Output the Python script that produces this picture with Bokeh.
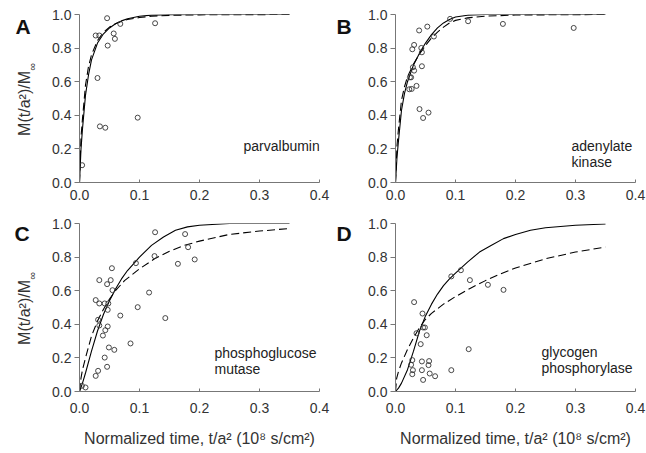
import math
from bokeh.plotting import figure
from bokeh.layouts import column, row
from bokeh.models import Label, FixedTicker, PrintfTickFormatter, Range1d
from bokeh.core.properties import value
from bokeh.embed import file_html
from bokeh.resources import INLINE

# ---------------- data ----------------
x_ticks = [0.0, 0.1, 0.2, 0.3, 0.4]
y_ticks = [0.0, 0.2, 0.4, 0.6, 0.8, 1.0]

# Panel A: parvalbumin
a_pts_t = [0.0044, 0.027, 0.033, 0.046, 0.030, 0.034, 0.043, 0.047, 0.057, 0.059, 0.068, 0.097, 0.126]
a_pts_m = [0.103, 0.875, 0.875, 0.978, 0.622, 0.334, 0.326, 0.815, 0.887, 0.855, 0.944, 0.386, 0.948]
a_solid_t = [0, 0.0025, 0.005, 0.01, 0.015, 0.02, 0.03, 0.04, 0.05, 0.06, 0.07, 0.08, 0.1, 0.12, 0.15, 0.2, 0.35]
a_solid_m = [0, 0.20, 0.32, 0.52, 0.64, 0.73, 0.83, 0.885, 0.92, 0.945, 0.962, 0.975, 0.99, 0.996, 0.999, 1.0, 1.0]
a_dash_t = [0, 0.0025, 0.005, 0.01, 0.015, 0.02, 0.03, 0.04, 0.05, 0.06, 0.07, 0.08, 0.1, 0.12, 0.15, 0.2, 0.35]
a_dash_m = [0, 0.27, 0.38, 0.58, 0.69, 0.76, 0.845, 0.895, 0.925, 0.945, 0.96, 0.97, 0.982, 0.99, 0.995, 0.998, 1.0]

# Panel B: adenylate kinase
b_pts_t = [0.0394, 0.053, 0.031, 0.028, 0.043, 0.044, 0.064, 0.091, 0.121, 0.179, 0.297,
           0.029, 0.031, 0.044, 0.024, 0.026, 0.023, 0.027, 0.035, 0.040, 0.055, 0.046]
b_pts_m = [0.905, 0.928, 0.819, 0.793, 0.801, 0.775, 0.869, 0.974, 0.960, 0.944, 0.920,
           0.686, 0.666, 0.692, 0.626, 0.626, 0.555, 0.557, 0.575, 0.437, 0.416, 0.384]
b_solid_t = [0, 0.0025, 0.005, 0.01, 0.015, 0.02, 0.03, 0.04, 0.05, 0.06, 0.07, 0.08, 0.09, 0.1, 0.12, 0.15, 0.35]
b_solid_m = [0, 0.15, 0.25, 0.43, 0.53, 0.60, 0.70, 0.77, 0.83, 0.88, 0.92, 0.95, 0.97, 0.985, 0.996, 1.0, 1.0]
b_dash_t = [0, 0.0025, 0.005, 0.01, 0.015, 0.02, 0.03, 0.04, 0.05, 0.06, 0.07, 0.08, 0.09, 0.1, 0.12, 0.15, 0.2, 0.35]
b_dash_m = [0, 0.22, 0.32, 0.49, 0.57, 0.63, 0.705, 0.765, 0.815, 0.86, 0.895, 0.925, 0.95, 0.965, 0.98, 0.99, 0.997, 1.0]

# Panel C: phosphoglucose mutase
c_pts_t = [0.004, 0.010, 0.027, 0.031, 0.042, 0.046, 0.049, 0.058, 0.039, 0.043, 0.047, 0.033,
           0.031, 0.027, 0.033, 0.042, 0.048, 0.047, 0.033, 0.046, 0.052, 0.054, 0.055, 0.068,
           0.085, 0.094, 0.097, 0.116, 0.126, 0.125, 0.143, 0.164, 0.176, 0.181, 0.192]
c_pts_m = [0.034, 0.024, 0.093, 0.123, 0.202, 0.147, 0.262, 0.248, 0.333, 0.365, 0.387, 0.393,
           0.427, 0.544, 0.524, 0.524, 0.524, 0.486, 0.663, 0.639, 0.663, 0.734, 0.603, 0.452,
           0.286, 0.764, 0.502, 0.589, 0.948, 0.806, 0.437, 0.760, 0.937, 0.859, 0.786]
c_solid_t = [0, 0.005, 0.01, 0.02, 0.03, 0.04, 0.05, 0.06, 0.07, 0.08, 0.09, 0.1, 0.12, 0.14, 0.16, 0.18, 0.2, 0.25, 0.35]
c_solid_m = [0, 0.05, 0.11, 0.24, 0.36, 0.46, 0.54, 0.61, 0.67, 0.72, 0.76, 0.80, 0.87, 0.92, 0.96, 0.98, 0.99, 1.0, 1.0]
c_dash_t = [0, 0.0025, 0.005, 0.01, 0.02, 0.03, 0.04, 0.05, 0.06, 0.075, 0.1, 0.125, 0.15, 0.175, 0.2, 0.25, 0.3, 0.35]
c_dash_m = [0, 0.08, 0.13, 0.20, 0.33, 0.42, 0.49, 0.55, 0.60, 0.66, 0.73, 0.79, 0.835, 0.87, 0.895, 0.935, 0.955, 0.97]

# Panel D: glycogen phosphorylase
d_pts_t = [0.031, 0.045, 0.035, 0.049, 0.046, 0.052, 0.042, 0.028, 0.026, 0.029, 0.028, 0.044,
           0.044, 0.056, 0.055, 0.057, 0.066, 0.046, 0.093, 0.109, 0.124, 0.122, 0.093, 0.154, 0.180]
d_pts_m = [0.532, 0.464, 0.347, 0.381, 0.381, 0.335, 0.282, 0.187, 0.159, 0.127, 0.103, 0.179,
           0.127, 0.181, 0.157, 0.107, 0.091, 0.069, 0.685, 0.722, 0.663, 0.252, 0.127, 0.635, 0.605]
d_solid_t = [0, 0.005, 0.01, 0.02, 0.03, 0.04, 0.05, 0.06, 0.07, 0.08, 0.09, 0.1, 0.12, 0.14, 0.16, 0.18, 0.2, 0.225, 0.25, 0.3, 0.35]
d_solid_m = [0, 0.02, 0.05, 0.13, 0.24, 0.36, 0.45, 0.52, 0.58, 0.63, 0.67, 0.705, 0.77, 0.83, 0.87, 0.91, 0.935, 0.96, 0.975, 0.99, 0.997]
d_dash_t = [0, 0.002, 0.005, 0.01, 0.02, 0.03, 0.04, 0.05, 0.06, 0.08, 0.1, 0.125, 0.15, 0.175, 0.2, 0.25, 0.3, 0.35]
d_dash_m = [0, 0.08, 0.12, 0.17, 0.25, 0.32, 0.38, 0.43, 0.465, 0.52, 0.565, 0.615, 0.66, 0.70, 0.735, 0.79, 0.83, 0.86]

letters = ["A", "B", "C", "D"]
names = [["parvalbumin"], ["adenylate", "kinase"], ["phosphoglucose", "mutase"], ["glycogen", "phosphorylase"]]
y_title = "M(t/a\u00b2)/M"
y_title_sub = "\u221e"
x_title = "Normalized time, t/a\u00b2 (10\u2078 s/cm\u00b2)"

# ---------------- styling / layout ----------------
FONT = "Liberation Sans"
TXT = "#333333"
AXC = "#777777"
FW, FH = 240, 168          # frame size in px
XPX = FW / 0.4             # px per x unit
YPX = FH / 1.0             # px per y unit
ROW1_H, ROW2_H = 205, 248
STRIP_L_W, STRIP_M_W = 44, 29
PA_W, PB_W = 287, 286


def dx(px):  # pixel offset from frame left -> data x
    return px / XPX


def dy(px):  # pixel offset above frame bottom -> data y
    return px / YPX


def panel(idx, pts_t, pts_m, s_t, s_m, d_t, d_m, width, height, bl, br, bt, bb,
          bottom_row, name_x, name_y):
    p = figure(width=width, height=height, x_range=Range1d(0, 0.4), y_range=Range1d(0, 1.0),
               output_backend="svg", toolbar_location=None, title=None,
               min_border_left=bl, min_border_right=br, min_border_top=bt, min_border_bottom=bb)
    p.outline_line_color = None
    p.grid.visible = False
    p.background_fill_color = "white"
    p.border_fill_color = "white"

    xa = p.xaxis[0]
    xa.ticker = FixedTicker(ticks=x_ticks)
    xa.formatter = PrintfTickFormatter(format="%.1f")
    xa.minor_tick_line_color = None
    xa.major_tick_in = 3
    xa.major_tick_out = 0
    xa.major_label_standoff = 11 if bottom_row else 7
    xa.axis_line_color = AXC
    xa.major_tick_line_color = AXC
    xa.major_label_text_font = FONT
    xa.major_label_text_font_size = "14px"
    xa.major_label_text_color = TXT
    if bottom_row:
        xa.axis_label = x_title
        xa.axis_label_text_font = FONT
        xa.axis_label_text_font_size = "16px"
        xa.axis_label_text_font_style = "normal"
        xa.axis_label_text_color = TXT
        xa.axis_label_standoff = 14

    ya = p.yaxis[0]
    ya.ticker = FixedTicker(ticks=y_ticks)
    ya.formatter = PrintfTickFormatter(format="%.1f")
    ya.minor_tick_line_color = None
    ya.major_tick_in = 0
    ya.major_tick_out = 5
    ya.major_label_standoff = 3
    ya.axis_line_color = AXC
    ya.major_tick_line_color = AXC
    ya.major_label_text_font = FONT
    ya.major_label_text_font_size = "14px"
    ya.major_label_text_color = TXT

    p.line(s_t, s_m, line_color="black", line_width=1.1)
    p.line(d_t, d_m, line_color="black", line_width=1.1, line_dash="8 4")
    p.scatter(pts_t, pts_m, marker="circle", size=5, fill_color=None,
              line_color="#333333", line_width=0.9)

    for k, line in enumerate(names[idx]):
        p.add_layout(Label(x=name_x, y=name_y - dy(16.5 * k), text=line, text_font=FONT,
                           text_font_size="14px", text_color="#222222",
                           text_align="left", text_baseline="middle"))
    return p


def strip(width, height, bt, bb, letter, letter_x, letter_mid, with_title, title_end):
    # a plain text strip (no axes); its frame matches the panels' frame of the row;
    # coordinates are pixels measured from the top-left corner of the row
    s = figure(width=width, height=height, x_range=Range1d(0, width),
               y_range=Range1d(height - bb, bt),
               output_backend="svg", toolbar_location=None, title=None,
               min_border_left=0, min_border_right=0, min_border_top=bt, min_border_bottom=bb,
               x_axis_type=None, y_axis_type=None)
    s.outline_line_color = None
    s.grid.visible = False
    s.background_fill_color = "white"
    s.border_fill_color = "white"
    s.text(x=[letter_x], y=[letter_mid], text=[letter], text_font=value(FONT),
           text_font_size="21px", text_font_style="bold", text_color="#111111",
           text_align="left", text_baseline="middle")
    if with_title:
        s.text(x=[24], y=[title_end + 0.5], text=[y_title], angle=math.pi / 2,
               text_font=value(FONT), text_font_size="16px", text_color=TXT,
               text_align="right", text_baseline="middle")
        s.text(x=[31], y=[title_end], text=[y_title_sub], angle=math.pi / 2,
               text_font=value(FONT), text_font_size="11px", text_color=TXT,
               text_align="left", text_baseline="middle")
    return s


# top row: frames at page y 14..182 ; bottom row: 223..391
pA = panel(0, a_pts_t, a_pts_m, a_solid_t, a_solid_m, a_dash_t, a_dash_m,
           PA_W, ROW1_H, 35, 12, 14, 23, False, dx(164), dy(37))
pB = panel(1, b_pts_t, b_pts_m, b_solid_t, b_solid_m, b_dash_t, b_dash_m,
           PB_W, ROW1_H, 35, 11, 14, 23, False, dx(176), dy(37))
pC = panel(2, c_pts_t, c_pts_m, c_solid_t, c_solid_m, c_dash_t, c_dash_m,
           PA_W, ROW2_H, 35, 12, 18, 62, True, dx(135), dy(39))
pD = panel(3, d_pts_t, d_pts_m, d_solid_t, d_solid_m, d_dash_t, d_dash_m,
           PB_W, ROW2_H, 35, 11, 18, 62, True, dx(146), dy(40))

sA = strip(STRIP_L_W, ROW1_H, 14, 23, letters[0], 15, 26, True, 70)
sB = strip(STRIP_M_W, ROW1_H, 14, 23, letters[1], 5, 26, False, 0)
sC = strip(STRIP_L_W, ROW2_H, 18, 62, letters[2], 14, 28, True, 74)
sD = strip(STRIP_M_W, ROW2_H, 18, 62, letters[3], 5, 28, False, 0)

layout = column(row(sA, pA, sB, pB), row(sC, pC, sD, pD))
open("out.html", "w").write(file_html(layout, INLINE))
